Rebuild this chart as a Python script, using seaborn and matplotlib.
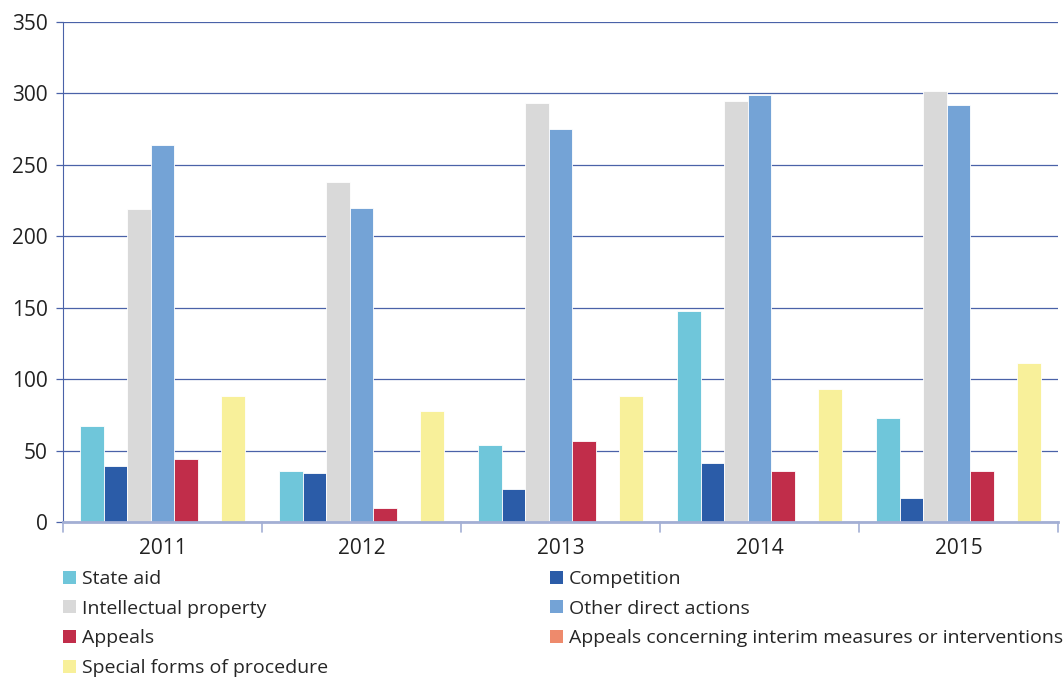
import numpy as np
import pandas as pd
import seaborn as sb
import matplotlib.pyplot as plt
from matplotlib.patches import Patch

years = ["2011", "2012", "2013", "2014", "2015"]
series = ["State aid", "Competition", "Intellectual property", "Other direct actions",
          "Appeals", "Appeals concerning interim measures or interventions",
          "Special forms of procedure"]
state_aid = [67, 36, 54, 148, 73]
competition = [39, 34, 23, 41, 17]
intellectual = [219, 238, 293, 295, 302]
other_direct = [264, 220, 275, 299, 292]
appeals = [44, 10, 57, 36, 36]
appeals_interim = [1, 1, 0, 0, 0]
special_forms = [88, 78, 88, 93, 111]

colors = ["#6fc6da", "#2b5ca8", "#d9d9d9", "#74a3d6", "#c12d4a", "#ee8a6c", "#f8f09a"]

values = [state_aid, competition, intellectual, other_direct, appeals, appeals_interim, special_forms]
rows = []
for name, vals in zip(series, values):
    for y, v in zip(years, vals):
        rows.append({"year": y, "type": name, "cases": v})
df = pd.DataFrame(rows)

sb.set_style("white")
plt.rcParams["font.family"] = ["Open Sans", "DejaVu Sans"]

fig = plt.figure(figsize=(10.64, 6.77), dpi=100)
ax = fig.add_axes([63 / 1064, 1 - 522 / 677, 995 / 1064, 500 / 677])

sb.barplot(data=df, x="year", y="cases", hue="type", hue_order=series,
           palette=colors, width=0.83, gap=0, saturation=1, ax=ax,
           edgecolor="white", linewidth=0.6, legend=False)

ax.set_ylim(0, 350)
ax.set_yticks(range(0, 351, 50))
ax.set_xlim(-0.5, 4.5)
ax.set_xlabel("")
ax.set_ylabel("")
ax.yaxis.grid(True, color="#4a62a8", linewidth=0.9)
ax.set_axisbelow(True)
for s in ["top", "right"]:
    ax.spines[s].set_visible(False)
ax.spines["left"].set_color("#4a62a8")
ax.spines["bottom"].set_color("#a3afd4")
ax.spines["bottom"].set_linewidth(2)

ax.tick_params(axis="y", labelsize=15, colors="#222222", length=5, width=0.9,
               left=True, color="#4a62a8", pad=6)
ax.tick_params(axis="x", labelsize=15, colors="#222222", bottom=False, pad=8)
for b in np.arange(-0.5, 4.6, 1.0):
    ax.plot([b, b], [0, -7], color="#a3afd4", linewidth=1.2, clip_on=False)

handles = [Patch(facecolor=c, edgecolor="none") for c in colors]
order = [0, 2, 4, 6, 1, 3, 5]
fig.legend([handles[i] for i in order], [series[i] for i in order],
           loc="upper left", bbox_to_anchor=(63 / 1064, 1 - 570 / 677),
           ncol=2, frameon=False, fontsize=14, columnspacing=11.4,
           handlelength=0.67, handleheight=0.67, handletextpad=0.3,
           labelspacing=0.6, borderaxespad=0, borderpad=0)

fig.savefig("out.png", dpi=100)
